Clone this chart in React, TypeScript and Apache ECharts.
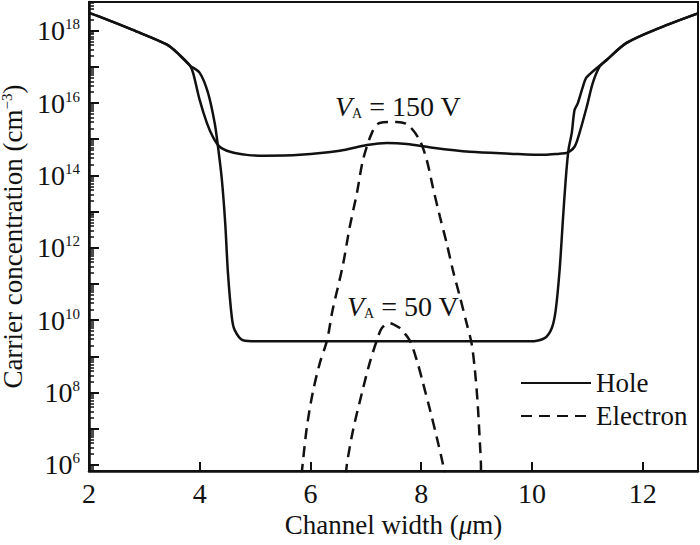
import React, { useEffect, useRef } from 'react';
import * as echarts from 'echarts';

// Channel width (µm) and carrier concentration (cm^-3)
const hole150X = [2.0, 2.2, 2.79, 3.41, 3.64, 3.82, 3.88, 4.0, 4.13, 4.24, 4.36, 4.55, 4.85, 5.18, 5.81, 6.53, 7.02, 7.38, 7.74, 8.21, 8.88, 9.6, 10.23, 10.5, 10.63, 10.77, 10.86, 10.99, 11.1, 11.22, 11.35, 11.71, 12.31, 13.0];
const hole150Y = [3.1e18, 2.4e18, 1.05e18, 4.1e17, 2.1e17, 1.1e17, 6.8e16, 1.2e16, 2.8e15, 1.15e15, 6.2e14, 4.5e14, 3.7e14, 3.5e14, 3.7e14, 4.8e14, 6.9e14, 7.9e14, 7.4e14, 5.8e14, 4.5e14, 4.0e14, 3.7e14, 4.0e14, 4.2e14, 6.2e14, 1.5e15, 7.8e15, 3.6e16, 1.0e17, 1.55e17, 4.6e17, 1.2e18, 3.0e18];

const hole50X = [2.0, 2.2, 2.79, 3.41, 3.64, 3.82, 4.0, 4.15, 4.27, 4.33, 4.4, 4.46, 4.51, 4.58, 4.63, 4.78, 5.09, 7.61, 9.96, 10.23, 10.36, 10.43, 10.5, 10.56, 10.61, 10.66, 10.72, 10.77, 10.83, 10.92, 10.99, 11.35, 11.71, 12.31, 13.0];
const hole50Y = [3.1e18, 2.4e18, 1.05e18, 4.1e17, 2.1e17, 1.1e17, 6.8e16, 1.9e16, 2.8e15, 6.2e14, 7.6e13, 4.9e12, 2.0e11, 1.2e10, 5.4e9, 2.8e9, 2.6e9, 2.6e9, 2.6e9, 3.2e9, 6.1e9, 1.9e10, 2.4e11, 5.9e12, 7.5e13, 5.0e14, 1.5e15, 6.4e15, 1.0e16, 2.8e16, 5.2e16, 1.55e17, 4.6e17, 1.2e18, 3.0e18];

const elec150X = [5.84, 5.86, 5.935, 6.04, 6.17, 6.3, 6.4, 6.58, 6.71, 6.84, 6.95, 7.11, 7.25, 7.56, 7.76, 7.97, 8.1, 8.21, 8.34, 8.46, 8.57, 8.7, 8.82, 8.91, 8.97, 9.02, 9.06, 9.08, 9.08];
const elec150Y = [5.3e5, 1.1e6, 1.1e7, 9.8e7, 6.6e8, 2.8e9, 1.9e10, 3.0e11, 3.8e12, 3.3e13, 2.7e14, 1.5e15, 2.8e15, 3.0e15, 2.5e15, 9.6e14, 2.7e14, 4.8e13, 7.1e12, 1.35e12, 2.5e11, 4.4e10, 8.3e9, 2.3e9, 4.2e8, 5.1e7, 4.1e6, 8.8e5, 3.9e5];

const elec50X = [6.64, 6.66, 6.77, 6.93, 7.07, 7.2, 7.29, 7.43, 7.52, 7.61, 7.79, 7.92, 8.03, 8.16, 8.28, 8.39, 8.43];
const elec50Y = [5.3e5, 1.1e6, 9.3e6, 9.8e7, 6.6e8, 2.8e9, 6.1e9, 8.3e9, 7.4e9, 6.1e9, 2.8e9, 7.9e8, 1.9e8, 3.3e7, 5.9e6, 1.1e6, 5.3e5];

const xMin = 2;
const xMax = 13;
const xInterval = 2;
const yMin = 6.8e5;
const yMax = 6.2e18;
const yLabelExponents = [6, 8, 10, 12, 14, 16, 18];
const yMajorExponents = [6, 7, 8, 9, 10, 11, 12, 13, 14, 15, 16, 17, 18];
const yMinorMultipliers = [2, 3, 4, 5, 6, 7, 8, 9];

const seriesNames = ['Hole', 'Electron'];
const annotation150 = { v: 'V', sub: 'A', rest: ' = 150 V' };
const annotation50 = { v: 'V', sub: 'A', rest: ' = 50 V' };

const FONT = '"Liberation Serif", "Times New Roman", serif';
const INK = '#111';

function zip(xs: number[], ys: number[]) {
  return xs.map((x, i) => [x, ys[i]]);
}

export default function App() {
  const ref = useRef<HTMLDivElement>(null);
  useEffect(() => {
    if (!ref.current) return;
    const chart = echarts.init(ref.current, null, { renderer: 'svg' });
    const majorTicks = yMajorExponents.map((e) => Math.pow(10, e));
    const labelTicks = yLabelExponents.map((e) => Math.pow(10, e));
    const minorTicks: number[] = [];
    yMajorExponents.concat([5]).forEach((e) => {
      yMinorMultipliers.forEach((m) => {
        const v = m * Math.pow(10, e);
        if (v > yMin && v < yMax) minorTicks.push(v);
      });
    });

    const lineBase = { type: 'line', symbol: 'none', smooth: 0.3, clip: true, silent: true };
    const annoRich = {
      v: { fontFamily: FONT, fontSize: 28, fontStyle: 'italic', fill: INK, color: INK },
      s: { fontFamily: FONT, fontSize: 14, fill: INK, color: INK, verticalAlign: 'bottom', padding: [12, 0, 0, 0] },
      t: { fontFamily: FONT, fontSize: 28, fill: INK, color: INK },
    };
    const annoText = (a: { v: string; sub: string; rest: string }) => `{v|${a.v}}{s|${a.sub}}{t|${a.rest}}`;

    chart.setOption({
      animation: false,
      backgroundColor: '#fff',
      grid: {
        left: 89,
        right: 2,
        top: 2,
        bottom: 74,
        show: true,
        borderColor: INK,
        borderWidth: 2,
        containLabel: false,
        outerBoundsMode: 'none',
      },
      legend: {
        data: seriesNames,
        orient: 'vertical',
        left: 520,
        top: 368,
        itemWidth: 70,
        itemHeight: 14,
        itemGap: 3,
        padding: 0,
        itemStyle: { opacity: 0 },
        textStyle: { fontFamily: FONT, fontSize: 27, color: INK, lineHeight: 30 },
      },
      xAxis: {
        type: 'value',
        min: xMin,
        max: xMax,
        interval: xInterval,
        name: 'Channel width ({i|μ}m)',
        nameLocation: 'middle',
        nameGap: 40,
        nameTextStyle: {
          fontFamily: FONT,
          fontSize: 27,
          color: INK,
          rich: { i: { fontFamily: FONT, fontSize: 27, fontStyle: 'italic', color: INK } },
        },
        axisLine: { show: true, lineStyle: { color: INK, width: 2.5 } },
        axisTick: { show: true, inside: true, length: 9, lineStyle: { color: INK, width: 2 } },
        axisLabel: { fontFamily: FONT, fontSize: 28, color: INK, margin: 8, showMaxLabel: false },
        splitLine: { show: false },
      },
      yAxis: [
        {
          type: 'log',
          logBase: 10,
          min: yMin,
          max: yMax,
          name: 'Carrier concentration (cm{sup|−3})',
          nameLocation: 'middle',
          nameGap: 58,
          nameTextStyle: {
            fontFamily: FONT,
            fontSize: 27,
            lineHeight: 26,
            color: INK,
            rich: { sup: { fontFamily: FONT, fontSize: 15, lineHeight: 15, color: INK, verticalAlign: 'top', padding: [0, 0, 6, 0] } },
          },
          axisLine: { show: true, lineStyle: { color: INK, width: 2.5 } },
          axisTick: { show: true, inside: true, length: 10, customValues: majorTicks, lineStyle: { color: INK, width: 2 } },
          axisLabel: {
            customValues: labelTicks,
            margin: 9,
            formatter: (v: number) => `{b|10}{e|${Math.round(Math.log10(v))}}`,
            rich: {
              b: { fontFamily: FONT, fontSize: 28, color: INK },
              e: { fontFamily: FONT, fontSize: 15, color: INK, verticalAlign: 'top', padding: [0, 0, 8, 0] },
            },
          },
          splitLine: { show: false },
          minorTick: { show: false },
        },
        {
          type: 'log',
          logBase: 10,
          min: yMin,
          max: yMax,
          position: 'left',
          axisLine: { show: false },
          axisTick: { show: true, inside: true, length: 5, customValues: minorTicks, lineStyle: { color: INK, width: 1.5 } },
          axisLabel: { show: false },
          splitLine: { show: false },
        },
      ],
      series: [
        { ...lineBase, name: 'Hole', data: zip(hole150X, hole150Y), lineStyle: { color: INK, width: 2.5, type: 'solid' }, itemStyle: { color: INK } },
        { ...lineBase, name: 'Hole', data: zip(hole50X, hole50Y), lineStyle: { color: INK, width: 2.5, type: 'solid' }, itemStyle: { color: INK } },
        { ...lineBase, name: 'Electron', data: zip(elec150X, elec150Y), lineStyle: { color: INK, width: 2.5, type: [11, 7] }, itemStyle: { color: INK } },
        { ...lineBase, name: 'Electron', data: zip(elec50X, elec50Y), lineStyle: { color: INK, width: 2.5, type: [11, 7] }, itemStyle: { color: INK } },
      ],
      graphic: [
        { type: 'text', x: 335, y: 92, style: { text: annoText(annotation150), rich: annoRich, fill: INK } },
        { type: 'text', x: 347, y: 292, style: { text: annoText(annotation50), rich: annoRich, fill: INK } },
      ],
    });
    return () => chart.dispose();
  }, []);
  return <div ref={ref} style={{ position: 'fixed', left: 0, top: 0, width: 700, height: 545, background: '#fff' }} />;
}
